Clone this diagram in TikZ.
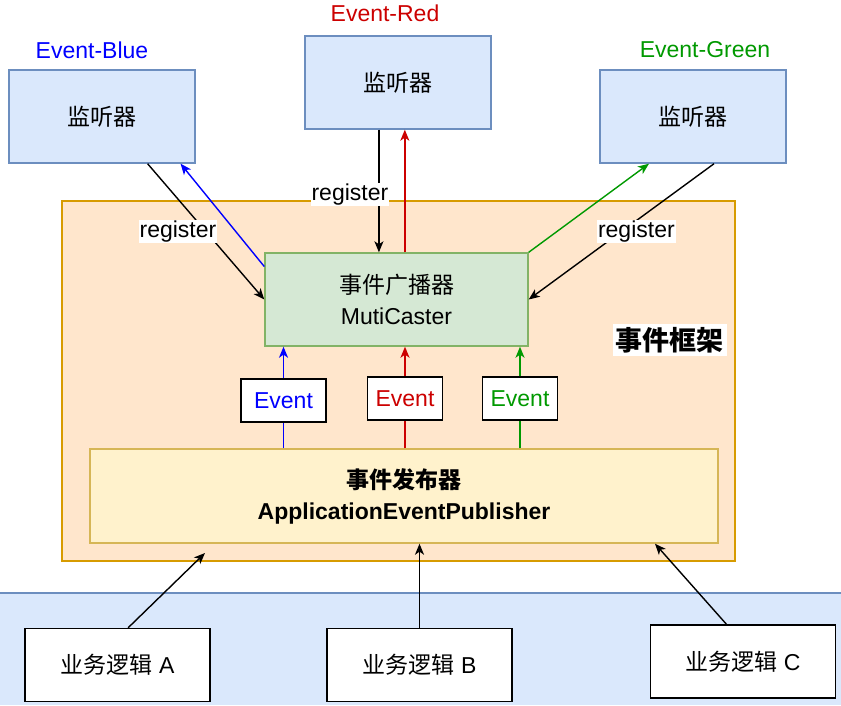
\documentclass[tikz,border=0pt]{standalone}
\usepackage{fontspec}
\setmainfont{Liberation Sans}
\newfontfamily\cjk{Noto Sans CJK SC}
\usetikzlibrary{arrows.meta}

\definecolor{evblue}{HTML}{0000FF}
\definecolor{evred}{HTML}{CC0000}
\definecolor{evgreen}{HTML}{009900}
\definecolor{listenfill}{HTML}{DAE8FC}
\definecolor{listendraw}{HTML}{6C8EBF}
\definecolor{framefill}{HTML}{FFE6CC}
\definecolor{framedraw}{HTML}{D79B00}
\definecolor{castfill}{HTML}{D5E8D4}
\definecolor{castdraw}{HTML}{82B366}
\definecolor{pubfill}{HTML}{FFF2CC}
\definecolor{pubdraw}{HTML}{D6B656}

\begin{document}
\begin{tikzpicture}[x=1pt, y=-1pt, line width=1.4pt,
    font=\fontsize{23}{31}\selectfont,
    >={Stealth[length=11pt, width=9pt, inset=3pt]},
    listener/.style={draw=listendraw, fill=listenfill, minimum width=186pt, minimum height=93pt},
    event/.style={draw=black, fill=white, line width=1.6pt, minimum height=43pt, inner xsep=8pt},
    business/.style={draw=black, fill=white, line width=1.6pt, minimum width=185pt, minimum height=73pt},
    reglabel/.style={fill=white, inner sep=1pt, text=black}]
    \useasboundingbox (0,0) rectangle (841,705);

    % Background areas
    \fill[listenfill] (0,593) rectangle (841,705);
    \draw[listendraw] (0,593) -- (841,593);
    \node[draw=framedraw, fill=framefill, minimum width=673pt, minimum height=360pt] (frame) at (398.5,381) {};
    \node[fill=white, inner sep=3pt, font=\fontsize{27}{31}\selectfont\bfseries\cjk] (framelabel) at (669.5,340) {事件框架};

    % Draw nodes
    \node[draw=castdraw, fill=castfill, minimum width=263pt, minimum height=93pt, align=center] (cast) at (396.5,299.5) {{\cjk 事件广播器}\\MutiCaster};
    \node[draw=pubdraw, fill=pubfill, minimum width=628pt, minimum height=94pt, align=center, font=\fontsize{23}{31}\selectfont\bfseries] (pub) at (404,496) {{\cjk 事件发布器}\\ApplicationEventPublisher};

    \node[listener] (lb) at (102,116.5) {\cjk 监听器};
    \node[listener] (lr) at (398,82.5) {\cjk 监听器};
    \node[listener] (lg) at (693,116.5) {\cjk 监听器};

    \node[text=evblue] (tb) at (92,50) {Event-Blue};
    \node[text=evred] (tr) at (385,13) {Event-Red};
    \node[text=evgreen] (tg) at (705,50) {Event-Green};

    \node[event, text=evblue, minimum width=85pt] (eb) at (283.5,400.5) {Event};
    \node[event, text=evred] (er) at (405,398.5) {Event};
    \node[event, text=evgreen] (eg) at (520,398.5) {Event};

    \node[business] (ba) at (117.5,665) {{\cjk 业务逻辑} A};
    \node[business] (bb) at (419.5,665) {{\cjk 业务逻辑} B};
    \node[business] (bc) at (743,661.5) {{\cjk 业务逻辑} C};
    \coordinate (aend) at (205,553);

    % Draw connections
    \draw[->, evblue] (cast.166.5) -- (lb.-31.5);
    \draw[->] (lb.-46) -- (cast.west) node[reglabel, pos=0.5, xshift=-28pt] {register};
    \draw[->] (lr.248) -- (lr.248 |- cast.north) node[reglabel, pos=0.53, xshift=-29pt] {register};
    \draw[->, evred] (cast.80.8) -- (cast.80.8 |- lr.south);
    \draw[->, evgreen] (cast.north east) -- (lg.227);
    \draw[->] (lg.-66) -- (cast.east) node[reglabel, pos=0.5, xshift=15pt] {register};

    \draw[evblue] (eb |- pub.north) -- (eb);
    \draw[->, evblue] (eb) -- (eb |- cast.south);
    \draw[evred] (er |- pub.north) -- (er);
    \draw[->, evred] (er) -- (er |- cast.south);
    \draw[evgreen] (eg |- pub.north) -- (eg);
    \draw[->, evgreen] (eg) -- (eg |- cast.south);

    \draw[->] (ba.74) -- (aend);
    \draw[->] (bb.north) -- (bb.north |- pub.south);
    \draw[->] (bc.114) -- ([xshift=251pt]pub.south);
\end{tikzpicture}
\end{document}
